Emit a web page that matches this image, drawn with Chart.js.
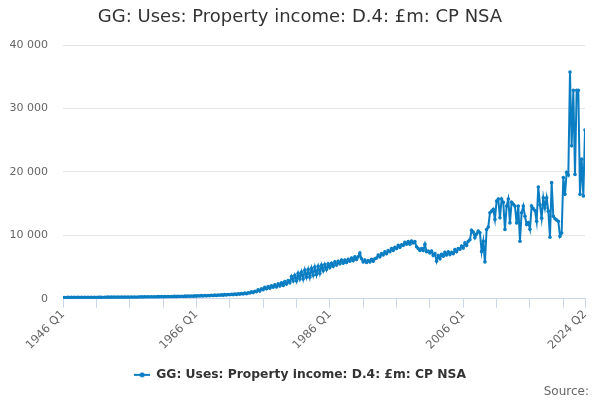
<!DOCTYPE html>
<html>
<head>
<meta charset="utf-8">
<script src="https://cdn.jsdelivr.net/npm/chart.js@4/dist/chart.umd.min.js"></script>
<style>
  body { margin: 0; background: #fff; }
  #wrap { width: 600px; height: 400px; }
</style>
</head>
<body>
<div id="wrap"><canvas id="chart"></canvas></div>
<script>
// Quarterly series, 1946 Q1 .. 2024 Q2 (£m)
const firstYear = 1946;
const values = [
  // 1946-1955
  170,200,180,210, 175,205,185,215, 180,210,190,220, 185,215,195,225, 190,220,200,230,
  195,225,205,235, 200,235,210,245, 210,245,220,255, 215,250,225,260, 220,255,230,265,
  // 1956-1965
  230,265,240,275, 240,275,250,285, 250,290,260,300, 260,300,270,310, 275,320,290,330,
  290,335,305,350, 310,355,325,370, 325,375,345,390, 345,400,365,415, 370,430,390,445,
  // 1966-1975
  400,460,420,480, 430,495,450,515, 465,535,490,560, 510,585,535,610, 560,640,590,670,
  620,710,650,740, 680,780,720,810, 760,880,800,920, 900,1080,960,1180, 1100,1400,1200,1550,
  // 1976-1985
  1400,1800,1550,1900, 1650,2050,1800,2200, 1850,2350,2000,2500, 2100,2700,2300,2850,
  2500,3500,2800,3700, 2800,4000,3100,4200, 3100,4500,3400,4600, 3400,4800,3700,5000,
  3800,5100,4000,5300, 4400,5400,4600,5500,
  // 1986-1995
  4900,5600,5100,5800, 5300,5900,5500,6100, 5600,6100,5700,6200, 5900,6400,6000,6600,
  6200,6600,7200,6300, 5800,6100,5700,6000, 5800,6200,5900,6300, 6400,6900,6600,7100,
  6900,7400,7100,7600, 7400,7900,7600,8100,
  // 1996-2005
  7900,8400,8100,8500, 8400,8900,8600,9000, 8600,9100,8800,9000, 8200,7900,7600,7900,
  7600,8600,7400,7500, 7200,7500,6800,7100, 5900,6800,6300,7000, 6700,7300,6900,7400,
  6950,7300,7100,7750, 7400,7900,7800,8300,
  // 2006-2015
  8000,8800,8400,9050, 9300,10800,10500,9600, 10200,10650,10400,7450, 9050,5800,10900,11300,
  13550,13800,14100,12500, 15400,15700,12750,15700, 15200,10900,14600,15700,
  11950,15200,14900,14600, 11950,14600,9050,13550, 14600,13000,11700,12000,
  // 2016-2024
  10950,14600,14200,13900, 12200,17600,14800,12700, 15900,14300,15900,13800,
  9700,18300,13000,12600, 12400,12200,9850,10350, 19100,16450,19900,19500,
  35750,24100,32850,19600, 32850,32850,16450,22000, 16200,26600
];

const quarterNames = ['Q1', 'Q2', 'Q3', 'Q4'];
const periods = values.map((v, i) => (firstYear + Math.floor(i / 4)) + ' ' + quarterNames[i % 4]);

// x ticks every 5 years, labels every 20 years plus the last period
const tickStep = 20;
const labelStep = 80;
const yTicks = [0, 10000, 20000, 30000, 40000];

const seriesName = 'GG: Uses: Property income: D.4: £m: CP NSA';
const blue = '#0b7ec3';

const lastIdx = values.length - 1;
const xTickValues = [];
for (let i = 0; i < lastIdx; i += tickStep) xTickValues.push(i);
xTickValues.push(lastIdx);

function legendSymbol() {
  const c = document.createElement('canvas');
  c.width = 16; c.height = 8;
  const g = c.getContext('2d');
  g.strokeStyle = blue; g.lineWidth = 2;
  g.beginPath(); g.moveTo(0, 4); g.lineTo(16, 4); g.stroke();
  g.fillStyle = blue;
  g.beginPath(); g.arc(8, 4, 2.5, 0, Math.PI * 2); g.fill();
  return c;
}

// title and source drawn by hand so they centre on the full canvas
const textPlugin = {
  id: 'texts',
  afterDraw(chart) {
    const ctx = chart.ctx;
    ctx.save();
    ctx.font = '18px "DejaVu Sans"';
    ctx.fillStyle = '#333';
    ctx.textAlign = 'center';
    ctx.textBaseline = 'middle';
    ctx.fillText(seriesName, 300, 17);
    ctx.font = '12px "DejaVu Sans"';
    ctx.fillStyle = '#666';
    ctx.textAlign = 'right';
    ctx.textBaseline = 'alphabetic';
    ctx.fillText('Source:', 589, 395);
    ctx.restore();
  }
};

new Chart(document.getElementById('chart'), {
  type: 'line',
  data: {
    datasets: [{
      label: seriesName,
      data: values.map((v, i) => ({ x: i, y: v })),
      borderColor: blue,
      backgroundColor: blue,
      borderWidth: 2,
      pointRadius: 1.8,
      pointBackgroundColor: blue,
      pointBorderWidth: 0,
      tension: 0
    }]
  },
  plugins: [textPlugin],
  options: {
    responsive: true,
    maintainAspectRatio: false,
    animation: false,
    layout: { padding: { left: 0, right: 0, top: 45, bottom: 9 } },
    plugins: {
      title: { display: false },
      legend: {
        position: 'bottom',
        labels: {
          color: '#333',
          font: { family: 'DejaVu Sans', size: 12.3, weight: 'bold' },
          usePointStyle: true,
          pointStyleWidth: 16,
          padding: 10,
          generateLabels: () => [{
            text: seriesName,
            pointStyle: legendSymbol(),
            fontColor: '#333',
            strokeStyle: blue,
            fillStyle: blue,
            datasetIndex: 0
          }]
        }
      },
      tooltip: { enabled: false }
    },
    scales: {
      x: {
        type: 'linear',
        min: 0,
        max: lastIdx,
        afterBuildTicks: axis => { axis.ticks = xTickValues.map(v => ({ value: v })); },
        afterFit: s => { s.height = 60; },
        ticks: {
          autoSkip: false,
          maxRotation: 45,
          minRotation: 45,
          padding: 0,
          color: '#666',
          font: { family: 'DejaVu Sans', size: 11.5 },
          callback: v => (v % labelStep === 0 || v === lastIdx) ? periods[v] : ''
        },
        grid: { drawOnChartArea: false, drawTicks: true, tickLength: 9, color: '#ccd6eb' },
        border: { color: '#ccd6eb' }
      },
      y: {
        min: 0,
        max: 40000,
        afterBuildTicks: axis => { axis.ticks = yTicks.map(v => ({ value: v })); },
        afterFit: s => { s.width = 63; },
        ticks: {
          color: '#666',
          padding: 15,
          font: { family: 'DejaVu Sans', size: 11 },
          callback: v => String(v).replace(/\B(?=(\d{3})+(?!\d))/g, ' ')
        },
        grid: { color: '#e6e6e6', drawTicks: false },
        border: { display: false }
      },
      // empty right-hand strip so the plot ends at x = 585
      yRight: {
        position: 'right',
        min: 0,
        max: 40000,
        afterFit: s => { s.width = 15; },
        ticks: { display: false },
        grid: { display: false, drawTicks: false },
        border: { display: false }
      }
    }
  }
});
</script>
</body>
</html>
